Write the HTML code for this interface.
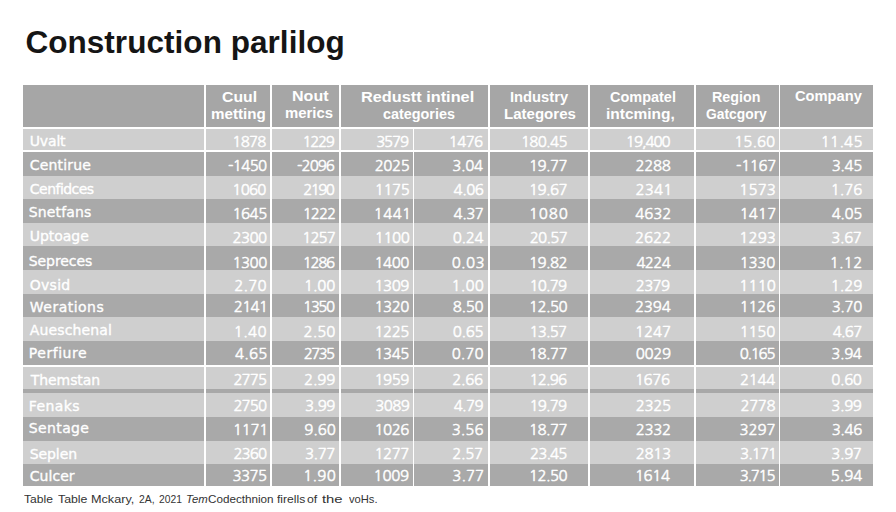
<!DOCTYPE html>
<html><head><meta charset="utf-8"><style>
*{margin:0;padding:0;box-sizing:border-box}
html,body{width:896px;height:512px;background:#fff;overflow:hidden}
body{position:relative;font-family:"Liberation Sans",Arial,sans-serif}
.c{position:absolute}
.n{position:absolute;color:#fff;white-space:nowrap;font-family:"NanumGothic","Liberation Sans",sans-serif;font-size:15px;line-height:20px;-webkit-text-stroke:0.45px #fff}
.l{position:absolute;color:#fff;white-space:nowrap;font-family:"DejaVu Sans",sans-serif;font-size:14px;line-height:20px;-webkit-text-stroke:0.35px #fff}
.h{position:absolute;color:#fff;white-space:nowrap;font-weight:bold;font-size:14.4px;line-height:20px;-webkit-text-stroke:0.0px #fff}
.ti{position:absolute;font-size:31.5px;font-weight:bold;color:#151515;white-space:nowrap;line-height:40px}
.f{position:absolute;font-size:11.5px;color:#333;white-space:nowrap;line-height:16px}
</style></head><body>

<div class="ti" style="left:25.40px;top:22.40px;letter-spacing:0.045px">Construction parlilog</div>
<div class="c" style="left:23px;top:85px;width:181px;height:42px;background:#a6a6a6"></div>
<div class="c" style="left:206px;top:85px;width:64px;height:42px;background:#a6a6a6"></div>
<div class="c" style="left:272px;top:85px;width:67px;height:42px;background:#a6a6a6"></div>
<div class="c" style="left:341px;top:85px;width:147px;height:42px;background:#a6a6a6"></div>
<div class="c" style="left:490px;top:85px;width:98px;height:42px;background:#a6a6a6"></div>
<div class="c" style="left:590px;top:85px;width:104px;height:42px;background:#a6a6a6"></div>
<div class="c" style="left:696px;top:85px;width:83px;height:42px;background:#a6a6a6"></div>
<div class="c" style="left:780px;top:85px;width:93px;height:42px;background:#a6a6a6"></div>
<div class="c" style="left:23px;top:129px;width:181px;height:21px;background:#cfcfcf"></div>
<div class="c" style="left:206px;top:129px;width:64px;height:21px;background:#cfcfcf"></div>
<div class="c" style="left:272px;top:129px;width:67px;height:21px;background:#cfcfcf"></div>
<div class="c" style="left:341px;top:129px;width:72px;height:21px;background:#cfcfcf"></div>
<div class="c" style="left:414px;top:129px;width:74px;height:21px;background:#cfcfcf"></div>
<div class="c" style="left:490px;top:129px;width:98px;height:21px;background:#cfcfcf"></div>
<div class="c" style="left:590px;top:129px;width:104px;height:21px;background:#cfcfcf"></div>
<div class="c" style="left:696px;top:129px;width:83px;height:21px;background:#cfcfcf"></div>
<div class="c" style="left:780px;top:129px;width:93px;height:21px;background:#cfcfcf"></div>
<div class="c" style="left:23px;top:152px;width:181px;height:24px;background:#a9a9a9"></div>
<div class="c" style="left:206px;top:152px;width:64px;height:24px;background:#a9a9a9"></div>
<div class="c" style="left:272px;top:152px;width:67px;height:24px;background:#a9a9a9"></div>
<div class="c" style="left:341px;top:152px;width:72px;height:24px;background:#a9a9a9"></div>
<div class="c" style="left:414px;top:152px;width:74px;height:24px;background:#a9a9a9"></div>
<div class="c" style="left:490px;top:152px;width:98px;height:24px;background:#a9a9a9"></div>
<div class="c" style="left:590px;top:152px;width:104px;height:24px;background:#a9a9a9"></div>
<div class="c" style="left:696px;top:152px;width:83px;height:24px;background:#a9a9a9"></div>
<div class="c" style="left:780px;top:152px;width:93px;height:24px;background:#a9a9a9"></div>
<div class="c" style="left:23px;top:176px;width:181px;height:23px;background:#cfcfcf"></div>
<div class="c" style="left:206px;top:176px;width:64px;height:23px;background:#cfcfcf"></div>
<div class="c" style="left:272px;top:176px;width:67px;height:23px;background:#cfcfcf"></div>
<div class="c" style="left:341px;top:176px;width:72px;height:23px;background:#cfcfcf"></div>
<div class="c" style="left:414px;top:176px;width:74px;height:23px;background:#cfcfcf"></div>
<div class="c" style="left:490px;top:176px;width:98px;height:23px;background:#cfcfcf"></div>
<div class="c" style="left:590px;top:176px;width:104px;height:23px;background:#cfcfcf"></div>
<div class="c" style="left:696px;top:176px;width:83px;height:23px;background:#cfcfcf"></div>
<div class="c" style="left:780px;top:176px;width:93px;height:23px;background:#cfcfcf"></div>
<div class="c" style="left:23px;top:199px;width:181px;height:24px;background:#a9a9a9"></div>
<div class="c" style="left:206px;top:199px;width:64px;height:24px;background:#a9a9a9"></div>
<div class="c" style="left:272px;top:199px;width:67px;height:24px;background:#a9a9a9"></div>
<div class="c" style="left:341px;top:199px;width:72px;height:24px;background:#a9a9a9"></div>
<div class="c" style="left:414px;top:199px;width:74px;height:24px;background:#a9a9a9"></div>
<div class="c" style="left:490px;top:199px;width:98px;height:24px;background:#a9a9a9"></div>
<div class="c" style="left:590px;top:199px;width:104px;height:24px;background:#a9a9a9"></div>
<div class="c" style="left:696px;top:199px;width:83px;height:24px;background:#a9a9a9"></div>
<div class="c" style="left:780px;top:199px;width:93px;height:24px;background:#a9a9a9"></div>
<div class="c" style="left:23px;top:223px;width:181px;height:23px;background:#cfcfcf"></div>
<div class="c" style="left:206px;top:223px;width:64px;height:23px;background:#cfcfcf"></div>
<div class="c" style="left:272px;top:223px;width:67px;height:23px;background:#cfcfcf"></div>
<div class="c" style="left:341px;top:223px;width:72px;height:23px;background:#cfcfcf"></div>
<div class="c" style="left:414px;top:223px;width:74px;height:23px;background:#cfcfcf"></div>
<div class="c" style="left:490px;top:223px;width:98px;height:23px;background:#cfcfcf"></div>
<div class="c" style="left:590px;top:223px;width:104px;height:23px;background:#cfcfcf"></div>
<div class="c" style="left:696px;top:223px;width:83px;height:23px;background:#cfcfcf"></div>
<div class="c" style="left:780px;top:223px;width:93px;height:23px;background:#cfcfcf"></div>
<div class="c" style="left:23px;top:246px;width:181px;height:24px;background:#a9a9a9"></div>
<div class="c" style="left:206px;top:246px;width:64px;height:24px;background:#a9a9a9"></div>
<div class="c" style="left:272px;top:246px;width:67px;height:24px;background:#a9a9a9"></div>
<div class="c" style="left:341px;top:246px;width:72px;height:24px;background:#a9a9a9"></div>
<div class="c" style="left:414px;top:246px;width:74px;height:24px;background:#a9a9a9"></div>
<div class="c" style="left:490px;top:246px;width:98px;height:24px;background:#a9a9a9"></div>
<div class="c" style="left:590px;top:246px;width:104px;height:24px;background:#a9a9a9"></div>
<div class="c" style="left:696px;top:246px;width:83px;height:24px;background:#a9a9a9"></div>
<div class="c" style="left:780px;top:246px;width:93px;height:24px;background:#a9a9a9"></div>
<div class="c" style="left:23px;top:270px;width:181px;height:24px;background:#cfcfcf"></div>
<div class="c" style="left:206px;top:270px;width:64px;height:24px;background:#cfcfcf"></div>
<div class="c" style="left:272px;top:270px;width:67px;height:24px;background:#cfcfcf"></div>
<div class="c" style="left:341px;top:270px;width:72px;height:24px;background:#cfcfcf"></div>
<div class="c" style="left:414px;top:270px;width:74px;height:24px;background:#cfcfcf"></div>
<div class="c" style="left:490px;top:270px;width:98px;height:24px;background:#cfcfcf"></div>
<div class="c" style="left:590px;top:270px;width:104px;height:24px;background:#cfcfcf"></div>
<div class="c" style="left:696px;top:270px;width:83px;height:24px;background:#cfcfcf"></div>
<div class="c" style="left:780px;top:270px;width:93px;height:24px;background:#cfcfcf"></div>
<div class="c" style="left:23px;top:294px;width:181px;height:23px;background:#a9a9a9"></div>
<div class="c" style="left:206px;top:294px;width:64px;height:23px;background:#a9a9a9"></div>
<div class="c" style="left:272px;top:294px;width:67px;height:23px;background:#a9a9a9"></div>
<div class="c" style="left:341px;top:294px;width:72px;height:23px;background:#a9a9a9"></div>
<div class="c" style="left:414px;top:294px;width:74px;height:23px;background:#a9a9a9"></div>
<div class="c" style="left:490px;top:294px;width:98px;height:23px;background:#a9a9a9"></div>
<div class="c" style="left:590px;top:294px;width:104px;height:23px;background:#a9a9a9"></div>
<div class="c" style="left:696px;top:294px;width:83px;height:23px;background:#a9a9a9"></div>
<div class="c" style="left:780px;top:294px;width:93px;height:23px;background:#a9a9a9"></div>
<div class="c" style="left:23px;top:317px;width:181px;height:24px;background:#cfcfcf"></div>
<div class="c" style="left:206px;top:317px;width:64px;height:24px;background:#cfcfcf"></div>
<div class="c" style="left:272px;top:317px;width:67px;height:24px;background:#cfcfcf"></div>
<div class="c" style="left:341px;top:317px;width:72px;height:24px;background:#cfcfcf"></div>
<div class="c" style="left:414px;top:317px;width:74px;height:24px;background:#cfcfcf"></div>
<div class="c" style="left:490px;top:317px;width:98px;height:24px;background:#cfcfcf"></div>
<div class="c" style="left:590px;top:317px;width:104px;height:24px;background:#cfcfcf"></div>
<div class="c" style="left:696px;top:317px;width:83px;height:24px;background:#cfcfcf"></div>
<div class="c" style="left:780px;top:317px;width:93px;height:24px;background:#cfcfcf"></div>
<div class="c" style="left:23px;top:341px;width:181px;height:24px;background:#a9a9a9"></div>
<div class="c" style="left:206px;top:341px;width:64px;height:24px;background:#a9a9a9"></div>
<div class="c" style="left:272px;top:341px;width:67px;height:24px;background:#a9a9a9"></div>
<div class="c" style="left:341px;top:341px;width:72px;height:24px;background:#a9a9a9"></div>
<div class="c" style="left:414px;top:341px;width:74px;height:24px;background:#a9a9a9"></div>
<div class="c" style="left:490px;top:341px;width:98px;height:24px;background:#a9a9a9"></div>
<div class="c" style="left:590px;top:341px;width:104px;height:24px;background:#a9a9a9"></div>
<div class="c" style="left:696px;top:341px;width:83px;height:24px;background:#a9a9a9"></div>
<div class="c" style="left:780px;top:341px;width:93px;height:24px;background:#a9a9a9"></div>
<div class="c" style="left:23px;top:367px;width:181px;height:22px;background:#cfcfcf"></div>
<div class="c" style="left:206px;top:367px;width:64px;height:22px;background:#cfcfcf"></div>
<div class="c" style="left:272px;top:367px;width:67px;height:22px;background:#cfcfcf"></div>
<div class="c" style="left:341px;top:367px;width:72px;height:22px;background:#cfcfcf"></div>
<div class="c" style="left:414px;top:367px;width:74px;height:22px;background:#cfcfcf"></div>
<div class="c" style="left:490px;top:367px;width:98px;height:22px;background:#cfcfcf"></div>
<div class="c" style="left:590px;top:367px;width:104px;height:22px;background:#cfcfcf"></div>
<div class="c" style="left:696px;top:367px;width:83px;height:22px;background:#cfcfcf"></div>
<div class="c" style="left:780px;top:367px;width:93px;height:22px;background:#cfcfcf"></div>
<div class="c" style="left:23px;top:393px;width:181px;height:24px;background:#cfcfcf"></div>
<div class="c" style="left:206px;top:393px;width:64px;height:24px;background:#cfcfcf"></div>
<div class="c" style="left:272px;top:393px;width:67px;height:24px;background:#cfcfcf"></div>
<div class="c" style="left:341px;top:393px;width:72px;height:24px;background:#cfcfcf"></div>
<div class="c" style="left:414px;top:393px;width:74px;height:24px;background:#cfcfcf"></div>
<div class="c" style="left:490px;top:393px;width:98px;height:24px;background:#cfcfcf"></div>
<div class="c" style="left:590px;top:393px;width:104px;height:24px;background:#cfcfcf"></div>
<div class="c" style="left:696px;top:393px;width:83px;height:24px;background:#cfcfcf"></div>
<div class="c" style="left:780px;top:393px;width:93px;height:24px;background:#cfcfcf"></div>
<div class="c" style="left:23px;top:417px;width:181px;height:24px;background:#a9a9a9"></div>
<div class="c" style="left:206px;top:417px;width:64px;height:24px;background:#a9a9a9"></div>
<div class="c" style="left:272px;top:417px;width:67px;height:24px;background:#a9a9a9"></div>
<div class="c" style="left:341px;top:417px;width:72px;height:24px;background:#a9a9a9"></div>
<div class="c" style="left:414px;top:417px;width:74px;height:24px;background:#a9a9a9"></div>
<div class="c" style="left:490px;top:417px;width:98px;height:24px;background:#a9a9a9"></div>
<div class="c" style="left:590px;top:417px;width:104px;height:24px;background:#a9a9a9"></div>
<div class="c" style="left:696px;top:417px;width:83px;height:24px;background:#a9a9a9"></div>
<div class="c" style="left:780px;top:417px;width:93px;height:24px;background:#a9a9a9"></div>
<div class="c" style="left:23px;top:441px;width:181px;height:23px;background:#cfcfcf"></div>
<div class="c" style="left:206px;top:441px;width:64px;height:23px;background:#cfcfcf"></div>
<div class="c" style="left:272px;top:441px;width:67px;height:23px;background:#cfcfcf"></div>
<div class="c" style="left:341px;top:441px;width:72px;height:23px;background:#cfcfcf"></div>
<div class="c" style="left:414px;top:441px;width:74px;height:23px;background:#cfcfcf"></div>
<div class="c" style="left:490px;top:441px;width:98px;height:23px;background:#cfcfcf"></div>
<div class="c" style="left:590px;top:441px;width:104px;height:23px;background:#cfcfcf"></div>
<div class="c" style="left:696px;top:441px;width:83px;height:23px;background:#cfcfcf"></div>
<div class="c" style="left:780px;top:441px;width:93px;height:23px;background:#cfcfcf"></div>
<div class="c" style="left:23px;top:464px;width:181px;height:22px;background:#a9a9a9"></div>
<div class="c" style="left:206px;top:464px;width:64px;height:22px;background:#a9a9a9"></div>
<div class="c" style="left:272px;top:464px;width:67px;height:22px;background:#a9a9a9"></div>
<div class="c" style="left:341px;top:464px;width:72px;height:22px;background:#a9a9a9"></div>
<div class="c" style="left:414px;top:464px;width:74px;height:22px;background:#a9a9a9"></div>
<div class="c" style="left:490px;top:464px;width:98px;height:22px;background:#a9a9a9"></div>
<div class="c" style="left:590px;top:464px;width:104px;height:22px;background:#a9a9a9"></div>
<div class="c" style="left:696px;top:464px;width:83px;height:22px;background:#a9a9a9"></div>
<div class="c" style="left:780px;top:464px;width:93px;height:22px;background:#a9a9a9"></div>
<div class="c" style="left:23px;top:389px;width:181px;height:4px;background:#a8a8a8"></div>
<div class="c" style="left:206px;top:389px;width:64px;height:4px;background:#a8a8a8"></div>
<div class="c" style="left:272px;top:389px;width:67px;height:4px;background:#a8a8a8"></div>
<div class="c" style="left:341px;top:389px;width:72px;height:4px;background:#a8a8a8"></div>
<div class="c" style="left:414px;top:389px;width:74px;height:4px;background:#a8a8a8"></div>
<div class="c" style="left:490px;top:389px;width:98px;height:4px;background:#a8a8a8"></div>
<div class="c" style="left:590px;top:389px;width:104px;height:4px;background:#a8a8a8"></div>
<div class="c" style="left:696px;top:389px;width:83px;height:4px;background:#a8a8a8"></div>
<div class="c" style="left:780px;top:389px;width:93px;height:4px;background:#a8a8a8"></div>
<div class="h" style="left:221.55px;top:87.20px;letter-spacing:0.000px;transform:scaleX(1.0960);transform-origin:0 0">Cuul</div>
<div class="h" style="left:210.54px;top:104.40px;letter-spacing:0.000px;transform:scaleX(1.0538);transform-origin:0 0">metting</div>
<div class="h" style="left:292.45px;top:86.20px;letter-spacing:0.000px;transform:scaleX(1.1143);transform-origin:0 0">Nout</div>
<div class="h" style="left:285.29px;top:103.40px;letter-spacing:0.000px;transform:scaleX(1.0351);transform-origin:0 0">merics</div>
<div class="h" style="left:360.89px;top:87.20px;letter-spacing:0.000px;transform:scaleX(1.1328);transform-origin:0 0">Redustt intinel</div>
<div class="h" style="left:382.98px;top:104.40px;letter-spacing:0.000px">categories</div>
<div class="h" style="left:510.32px;top:87.20px;letter-spacing:0.000px;transform:scaleX(1.0245);transform-origin:0 0">Industry</div>
<div class="h" style="left:503.54px;top:104.40px;letter-spacing:0.000px;transform:scaleX(1.0453);transform-origin:0 0">Lategores</div>
<div class="h" style="left:609.87px;top:87.20px;letter-spacing:0.000px;transform:scaleX(1.0050);transform-origin:0 0">Compatel</div>
<div class="h" style="left:606.43px;top:104.40px;letter-spacing:0.000px;transform:scaleX(1.0765);transform-origin:0 0">intcming,</div>
<div class="h" style="left:712.39px;top:87.20px;letter-spacing:0.000px;transform:scaleX(0.9939);transform-origin:0 0">Region</div>
<div class="h" style="left:705.52px;top:104.40px;letter-spacing:0.000px;transform:scaleX(0.9610);transform-origin:0 0">Gatcgory</div>
<div class="h" style="left:795.37px;top:86.20px;letter-spacing:0.000px;transform:scaleX(1.0189);transform-origin:0 0">Company</div>
<div class="l" style="left:29.80px;top:131.33px;letter-spacing:-0.175px">Uvalt</div>
<div class="n" style="right:630.47px;top:131.90px;letter-spacing:-0.800px">1878</div>
<div class="n" style="right:562.60px;top:131.90px;letter-spacing:-1.333px">1229</div>
<div class="n" style="right:488.00px;top:131.90px;letter-spacing:-1.133px">3579</div>
<div class="n" style="right:413.53px;top:131.90px;letter-spacing:-0.667px">1476</div>
<div class="n" style="right:329.20px;top:131.90px;letter-spacing:-0.680px">180.45</div>
<div class="n" style="right:226.40px;top:131.90px;letter-spacing:-1.040px">19,400</div>
<div class="n" style="right:120.90px;top:131.90px;letter-spacing:0.000px">15.60</div>
<div class="n" style="right:33.30px;top:131.90px;letter-spacing:0.200px">11.45</div>
<div class="l" style="left:29.80px;top:154.98px;letter-spacing:0.157px">Centirue</div>
<div class="n" style="right:629.45px;top:155.55px;letter-spacing:-0.650px">-1450</div>
<div class="n" style="right:562.10px;top:155.55px;letter-spacing:-1.000px">-2096</div>
<div class="n" style="right:486.60px;top:155.55px;letter-spacing:-0.400px">2025</div>
<div class="n" style="right:413.20px;top:155.55px;letter-spacing:-0.333px">3.04</div>
<div class="n" style="right:329.10px;top:155.55px;letter-spacing:-0.600px">19.77</div>
<div class="n" style="right:225.67px;top:155.55px;letter-spacing:-0.400px">2288</div>
<div class="n" style="right:120.10px;top:155.55px;letter-spacing:-0.400px">-1167</div>
<div class="n" style="right:34.13px;top:155.55px;letter-spacing:-0.400px">3.45</div>
<div class="l" style="left:29.80px;top:178.73px;letter-spacing:-0.525px">Cenfidces</div>
<div class="n" style="right:630.47px;top:180.30px;letter-spacing:-0.800px">1060</div>
<div class="n" style="right:562.87px;top:180.30px;letter-spacing:-1.600px">2190</div>
<div class="n" style="right:486.67px;top:180.30px;letter-spacing:-0.467px">1175</div>
<div class="n" style="right:412.73px;top:180.30px;letter-spacing:-0.533px">4.06</div>
<div class="n" style="right:329.10px;top:180.30px;letter-spacing:-0.600px">19.67</div>
<div class="n" style="right:223.33px;top:180.30px;letter-spacing:0.200px">2341</div>
<div class="n" style="right:120.00px;top:180.30px;letter-spacing:0.067px">1573</div>
<div class="n" style="right:33.80px;top:180.30px;letter-spacing:-0.067px">1.76</div>
<div class="l" style="left:28.80px;top:202.18px;letter-spacing:0.143px">Snetfans</div>
<div class="n" style="right:629.13px;top:203.75px;letter-spacing:-0.467px">1645</div>
<div class="n" style="right:560.93px;top:203.75px;letter-spacing:-1.000px">1222</div>
<div class="n" style="right:484.47px;top:203.75px;letter-spacing:0.333px">1441</div>
<div class="n" style="right:412.73px;top:203.75px;letter-spacing:-0.533px">4.37</div>
<div class="n" style="right:327.27px;top:203.75px;letter-spacing:0.867px">1080</div>
<div class="n" style="right:224.67px;top:203.75px;letter-spacing:-0.067px">4632</div>
<div class="n" style="right:119.67px;top:203.75px;letter-spacing:0.067px">1417</div>
<div class="n" style="right:34.13px;top:203.75px;letter-spacing:-0.400px">4.05</div>
<div class="l" style="left:29.80px;top:225.73px;letter-spacing:-0.050px">Uptoage</div>
<div class="n" style="right:629.60px;top:228.30px;letter-spacing:-0.600px">2300</div>
<div class="n" style="right:561.27px;top:228.30px;letter-spacing:-1.000px">1257</div>
<div class="n" style="right:486.67px;top:228.30px;letter-spacing:-0.467px">1100</div>
<div class="n" style="right:412.87px;top:228.30px;letter-spacing:-0.333px">0.24</div>
<div class="n" style="right:328.90px;top:228.30px;letter-spacing:-0.700px">20.57</div>
<div class="n" style="right:225.00px;top:228.30px;letter-spacing:-0.067px">2622</div>
<div class="n" style="right:120.00px;top:228.30px;letter-spacing:0.067px">1293</div>
<div class="n" style="right:34.47px;top:228.30px;letter-spacing:-0.400px">3.67</div>
<div class="l" style="left:28.80px;top:251.03px;letter-spacing:-0.086px">Sepreces</div>
<div class="n" style="right:629.13px;top:252.60px;letter-spacing:-0.467px">1300</div>
<div class="n" style="right:562.27px;top:252.60px;letter-spacing:-1.333px">1286</div>
<div class="n" style="right:487.00px;top:252.60px;letter-spacing:-0.467px">1400</div>
<div class="n" style="right:411.20px;top:252.60px;letter-spacing:0.333px">0.03</div>
<div class="n" style="right:328.95px;top:252.60px;letter-spacing:-0.550px">19.82</div>
<div class="n" style="right:225.93px;top:252.60px;letter-spacing:-0.667px">4224</div>
<div class="n" style="right:121.00px;top:252.60px;letter-spacing:-0.267px">1330</div>
<div class="n" style="right:33.47px;top:252.60px;letter-spacing:0.267px">1.12</div>
<div class="l" style="left:29.80px;top:275.23px;letter-spacing:0.250px">Ovsid</div>
<div class="n" style="right:629.13px;top:275.80px;letter-spacing:0.200px">2.70</div>
<div class="n" style="right:560.73px;top:275.80px;letter-spacing:-0.133px">1.00</div>
<div class="n" style="right:487.00px;top:275.80px;letter-spacing:-0.467px">1309</div>
<div class="n" style="right:412.07px;top:275.80px;letter-spacing:0.133px">1.00</div>
<div class="n" style="right:329.70px;top:275.80px;letter-spacing:-0.800px">10.79</div>
<div class="n" style="right:226.60px;top:275.80px;letter-spacing:-0.667px">2379</div>
<div class="n" style="right:120.00px;top:275.80px;letter-spacing:0.067px">1110</div>
<div class="n" style="right:33.80px;top:275.80px;letter-spacing:-0.067px">1.29</div>
<div class="l" style="left:29.80px;top:296.88px;letter-spacing:0.487px">Werations</div>
<div class="n" style="right:628.60px;top:297.45px;letter-spacing:-0.667px">2141</div>
<div class="n" style="right:562.40px;top:297.45px;letter-spacing:-1.467px">1350</div>
<div class="n" style="right:487.00px;top:297.45px;letter-spacing:-0.467px">1320</div>
<div class="n" style="right:412.87px;top:297.45px;letter-spacing:-0.333px">8.50</div>
<div class="n" style="right:328.95px;top:297.45px;letter-spacing:-0.550px">12.50</div>
<div class="n" style="right:225.47px;top:297.45px;letter-spacing:-0.200px">2394</div>
<div class="n" style="right:121.00px;top:297.45px;letter-spacing:-0.267px">1126</div>
<div class="n" style="right:34.13px;top:297.45px;letter-spacing:-0.400px">3.70</div>
<div class="l" style="left:29.80px;top:320.18px;letter-spacing:0.133px">Aueschenal</div>
<div class="n" style="right:628.93px;top:321.75px;letter-spacing:0.400px">1.40</div>
<div class="n" style="right:560.60px;top:321.75px;letter-spacing:-0.000px">2.50</div>
<div class="n" style="right:487.00px;top:321.75px;letter-spacing:-0.467px">1225</div>
<div class="n" style="right:412.87px;top:321.75px;letter-spacing:-0.333px">0.65</div>
<div class="n" style="right:329.70px;top:321.75px;letter-spacing:-0.800px">13.57</div>
<div class="n" style="right:225.00px;top:321.75px;letter-spacing:-0.067px">1247</div>
<div class="n" style="right:121.00px;top:321.75px;letter-spacing:-0.267px">1150</div>
<div class="n" style="right:34.47px;top:321.75px;letter-spacing:-0.733px">4.67</div>
<div class="l" style="left:28.80px;top:343.08px;letter-spacing:0.529px">Perfiure</div>
<div class="n" style="right:628.47px;top:343.65px;letter-spacing:0.200px">4.65</div>
<div class="n" style="right:562.60px;top:343.65px;letter-spacing:-1.667px">2735</div>
<div class="n" style="right:487.00px;top:343.65px;letter-spacing:-0.467px">1345</div>
<div class="n" style="right:412.53px;top:343.65px;letter-spacing:0.000px">0.70</div>
<div class="n" style="right:328.95px;top:343.65px;letter-spacing:-0.550px">18.77</div>
<div class="n" style="right:225.27px;top:343.65px;letter-spacing:-0.333px">0029</div>
<div class="n" style="right:121.80px;top:343.65px;letter-spacing:-1.300px">0.165</div>
<div class="n" style="right:34.47px;top:343.65px;letter-spacing:-0.400px">3.94</div>
<div class="l" style="left:30.80px;top:369.58px;letter-spacing:-0.079px">Themstan</div>
<div class="n" style="right:629.93px;top:370.15px;letter-spacing:-0.933px">2775</div>
<div class="n" style="right:560.73px;top:370.15px;letter-spacing:-0.133px">2.99</div>
<div class="n" style="right:487.00px;top:370.15px;letter-spacing:-0.467px">1959</div>
<div class="n" style="right:413.20px;top:370.15px;letter-spacing:-0.333px">2.66</div>
<div class="n" style="right:329.70px;top:370.15px;letter-spacing:-0.800px">12.96</div>
<div class="n" style="right:226.33px;top:370.15px;letter-spacing:-0.400px">1676</div>
<div class="n" style="right:121.13px;top:370.15px;letter-spacing:-0.400px">2144</div>
<div class="n" style="right:34.47px;top:370.15px;letter-spacing:-0.400px">0.60</div>
<div class="l" style="left:28.80px;top:395.70px;letter-spacing:0.390px">Fenaks</div>
<div class="n" style="right:629.93px;top:396.28px;letter-spacing:-0.933px">2750</div>
<div class="n" style="right:561.07px;top:396.28px;letter-spacing:-0.467px">3.99</div>
<div class="n" style="right:486.80px;top:396.28px;letter-spacing:-0.600px">3089</div>
<div class="n" style="right:413.20px;top:396.28px;letter-spacing:-0.667px">4.79</div>
<div class="n" style="right:329.70px;top:396.28px;letter-spacing:-0.800px">19.79</div>
<div class="n" style="right:225.27px;top:396.28px;letter-spacing:-0.333px">2325</div>
<div class="n" style="right:120.80px;top:396.28px;letter-spacing:-0.400px">2778</div>
<div class="n" style="right:34.47px;top:396.28px;letter-spacing:-0.400px">3.99</div>
<div class="l" style="left:28.80px;top:418.20px;letter-spacing:0.367px">Sentage</div>
<div class="n" style="right:627.93px;top:419.78px;letter-spacing:-0.333px">1171</div>
<div class="n" style="right:560.40px;top:419.78px;letter-spacing:-0.133px">9.60</div>
<div class="n" style="right:487.00px;top:419.78px;letter-spacing:-0.467px">1026</div>
<div class="n" style="right:412.53px;top:419.78px;letter-spacing:0.000px">3.56</div>
<div class="n" style="right:328.95px;top:419.78px;letter-spacing:-0.550px">18.77</div>
<div class="n" style="right:225.27px;top:419.78px;letter-spacing:-0.333px">2332</div>
<div class="n" style="right:120.47px;top:419.78px;letter-spacing:-0.067px">3297</div>
<div class="n" style="right:34.13px;top:419.78px;letter-spacing:-0.400px">3.46</div>
<div class="l" style="left:29.80px;top:443.70px;letter-spacing:-0.110px">Seplen</div>
<div class="n" style="right:629.93px;top:444.28px;letter-spacing:-0.933px">2360</div>
<div class="n" style="right:561.07px;top:444.28px;letter-spacing:-0.467px">3.77</div>
<div class="n" style="right:487.00px;top:444.28px;letter-spacing:-0.467px">1277</div>
<div class="n" style="right:413.20px;top:444.28px;letter-spacing:-0.333px">2.57</div>
<div class="n" style="right:329.50px;top:444.28px;letter-spacing:-0.900px">23.45</div>
<div class="n" style="right:225.27px;top:444.28px;letter-spacing:-0.333px">2813</div>
<div class="n" style="right:119.85px;top:444.28px;letter-spacing:-0.950px">3.171</div>
<div class="n" style="right:34.47px;top:444.28px;letter-spacing:-0.400px">3.97</div>
<div class="l" style="left:29.80px;top:465.70px;letter-spacing:0.040px">Culcer</div>
<div class="n" style="right:629.60px;top:466.28px;letter-spacing:-0.600px">3375</div>
<div class="n" style="right:560.07px;top:466.28px;letter-spacing:0.200px">1.90</div>
<div class="n" style="right:487.13px;top:466.28px;letter-spacing:-0.267px">1009</div>
<div class="n" style="right:411.87px;top:466.28px;letter-spacing:-0.000px">3.77</div>
<div class="n" style="right:328.95px;top:466.28px;letter-spacing:-0.550px">12.50</div>
<div class="n" style="right:226.33px;top:466.28px;letter-spacing:-0.400px">1614</div>
<div class="n" style="right:121.80px;top:466.28px;letter-spacing:-1.300px">3.715</div>
<div class="n" style="right:33.80px;top:466.28px;letter-spacing:-0.067px">5.94</div>
<div class="f" style="left:23.97px;top:490.60px;transform:scaleX(1.0519);transform-origin:0 0">Table</div>
<div class="f" style="left:57.90px;top:490.60px;transform:scaleX(1.0712);transform-origin:0 0">Table</div>
<div class="f" style="left:91.42px;top:490.60px;transform:scaleX(1.1002);transform-origin:0 0">Mckary,</div>
<div class="f" style="left:138.52px;top:490.60px;transform:scaleX(0.9026);transform-origin:0 0">2A,</div>
<div class="f" style="left:159.05px;top:490.60px;transform:scaleX(0.8961);transform-origin:0 0">2021</div>
<div class="f" style="left:186.01px;top:490.60px;transform:scaleX(0.9913);transform-origin:0 0"><i>Tem</i></div>
<div class="f" style="left:207.99px;top:490.60px;transform:scaleX(1.0157);transform-origin:0 0">Codecthnion</div>
<div class="f" style="left:276.51px;top:490.60px;transform:scaleX(1.0529);transform-origin:0 0">firells</div>
<div class="f" style="left:306.98px;top:490.60px;transform:scaleX(1.0673);transform-origin:0 0">of</div>
<div class="f" style="left:321.97px;top:490.60px;transform:scaleX(1.2897);transform-origin:0 0">the</div>
<div class="f" style="left:348.50px;top:490.60px;transform:scaleX(0.9717);transform-origin:0 0">voHs.</div>
</body></html>
